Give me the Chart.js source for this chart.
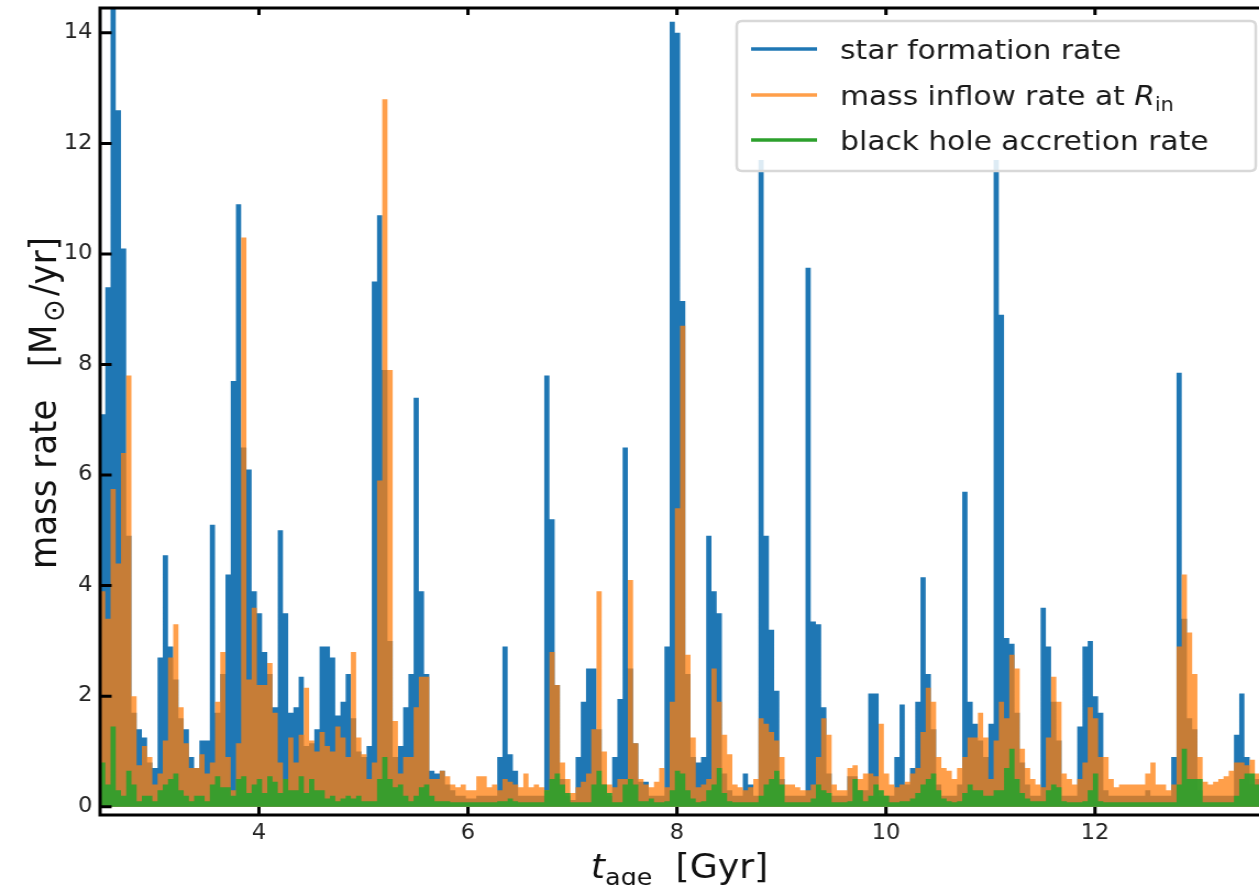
<!DOCTYPE html>
<html><head><meta charset="utf-8">
<script src="https://cdn.jsdelivr.net/npm/chart.js@4.4.1/dist/chart.umd.min.js"></script>
<style>
html,body{margin:0;padding:0;background:#fff;overflow:hidden;}
#wrap{position:absolute;left:0;top:0;width:1145px;height:885px;transform:scaleX(1.0996);transform-origin:0 0;}
canvas{display:block;}
</style></head><body>
<div id="wrap"><canvas id="c" width="1145" height="885"></canvas></div>
<script>
// time bins: start of first bin and bin width [Gyr]
const T_START = 2.48;
const BIN = 0.05;

// star formation rate [Msun/yr], one value per bin
const sfr = [
7.1,9.4,15.0,12.6,10.1,4.9,1.7,1.4,1.25,0.8, 0.7,2.7,4.55,2.9,2.3,1.6,1.4,0.9,0.7,1.2,
1.2,5.1,1.7,2.4,4.2,7.7,10.9,6.5,6.1,3.9, 3.5,2.8,2.4,1.8,5.0,3.5,1.7,1.8,2.35,1.1,
1.15,1.4,2.9,2.9,2.7,1.65,1.9,2.4,1.6,1.0, 0.9,1.1,9.5,10.7,7.9,3.0,0.9,1.1,1.8,2.4,
7.4,3.9,2.4,0.65,0.6,0.65,0.4,0.3,0.2,0.2, 0.15,0.15,0.2,0.2,0.2,0.2,0.9,2.9,0.95,0.65,
0.2,0.2,0.2,0.2,0.2,7.8,5.2,2.2,0.5,0.2, 0.12,0.9,1.9,2.5,2.5,1.4,0.4,0.2,0.9,1.95,
6.5,2.5,1.15,0.45,0.45,0.2,0.2,0.2,2.9,14.2, 14.0,9.15,2.4,0.9,0.8,0.9,4.9,3.9,3.5,0.6,
0.3,0.2,0.2,0.6,0.4,0.2,11.7,4.9,3.2,2.1, 0.5,0.2,0.2,0.2,0.2,9.75,3.35,3.3,1.8,0.6,
0.2,0.2,0.2,0.55,0.55,0.3,0.3,2.05,2.05,0.2, 0.2,0.2,0.9,1.85,0.4,0.7,1.9,4.15,2.4,1.4,
0.4,0.2,0.2,0.2,0.4,5.7,1.9,1.5,1.2,0.9, 1.5,11.7,8.9,3.05,2.95,1.7,0.8,0.4,0.2,0.2,
3.6,2.9,1.9,1.2,0.2,0.2,0.2,1.45,2.9,3.0, 2.0,1.7,0.3,0.2,0.2,0.2,0.2,0.2,0.2,0.2,
0.3,0.2,0.2,0.2,0.2,0.9,7.85,3.4,1.6,1.4, 0.3,0.2,0.2,0.2,0.2,0.2,0.2,1.3,2.05,0.9,
0.4,0.5
];

// mass inflow rate at R_in [Msun/yr]
const inflow = [
3.9,3.4,5.75,4.4,6.4,7.8,2.0,0.75,1.1,0.9, 0.4,0.6,1.2,2.7,3.3,1.8,1.15,0.7,0.7,0.95,
0.6,0.8,1.9,2.8,0.9,0.3,1.15,10.3,2.3,3.6, 2.2,2.2,2.6,1.7,0.8,0.5,1.25,0.8,1.3,2.15,
1.2,1.0,1.35,1.1,1.0,1.45,1.25,0.9,2.8,1.25, 0.95,0.5,0.8,5.9,12.8,7.9,1.55,0.6,0.9,0.9,
1.8,2.35,2.35,0.5,0.5,0.65,0.55,0.4,0.35,0.4, 0.3,0.3,0.55,0.55,0.35,0.4,0.3,0.5,0.45,0.4,
0.35,0.6,0.35,0.4,0.35,0.3,2.8,2.2,0.8,0.5, 0.25,0.35,0.45,0.6,1.4,3.9,1.0,0.4,0.35,0.5,
0.5,4.1,1.15,0.5,0.4,0.35,0.45,0.7,0.35,1.9, 5.4,8.7,2.75,1.25,0.35,0.4,0.5,2.5,1.9,1.3,
0.95,0.4,0.35,0.3,0.35,0.5,1.6,1.5,1.35,1.2, 0.9,0.4,0.4,0.35,0.3,0.3,0.4,0.9,1.6,1.3,
0.4,0.3,0.3,0.7,0.75,0.5,0.6,0.6,0.55,1.5, 0.6,0.4,0.35,0.4,0.45,0.6,0.7,1.35,2.15,1.9,
0.9,0.7,0.65,0.5,0.7,0.9,1.25,1.25,1.7,1.25, 0.5,1.2,1.9,1.6,2.75,2.5,1.05,0.7,0.5,0.4,
0.35,1.25,2.35,1.9,0.6,0.5,0.4,0.5,0.8,1.8, 1.6,0.9,0.9,0.5,0.35,0.4,0.4,0.4,0.4,0.4,
0.6,0.8,0.4,0.4,0.3,0.4,2.9,4.2,3.15,2.4, 0.9,0.45,0.4,0.45,0.5,0.55,0.65,0.8,0.8,0.75,
0.85,0.6
];

// black hole accretion rate [Msun/yr]
const bhar = [
0.8,0.4,1.45,0.3,0.2,0.65,0.4,0.1,0.2,0.2, 0.1,0.3,0.4,0.5,0.6,0.3,0.2,0.1,0.2,0.2,
0.1,0.4,0.55,0.35,0.35,0.2,0.5,0.55,0.25,0.4, 0.5,0.25,0.55,0.45,0.25,0.5,0.3,0.3,0.55,0.25,
0.5,0.3,0.3,0.15,0.2,0.1,0.15,0.2,0.15,0.2, 0.1,0.1,0.1,0.5,0.9,0.5,0.35,0.4,0.2,0.1,
0.2,0.35,0.4,0.2,0.1,0.1,0.1,0.08,0.08,0.08, 0.08,0.08,0.08,0.08,0.08,0.08,0.1,0.1,0.15,0.1,
0.08,0.08,0.08,0.08,0.08,0.3,0.5,0.6,0.4,0.25, 0.08,0.08,0.08,0.08,0.4,0.65,0.4,0.25,0.08,0.08,
0.4,0.5,0.4,0.1,0.1,0.15,0.08,0.08,0.1,0.3, 0.65,0.6,0.3,0.15,0.08,0.1,0.3,0.4,0.7,0.25,
0.1,0.08,0.08,0.08,0.08,0.08,0.2,0.4,0.5,0.65, 0.4,0.08,0.08,0.08,0.08,0.08,0.15,0.4,0.3,0.25,
0.08,0.08,0.08,0.1,0.5,0.3,0.1,0.2,0.4,0.3, 0.2,0.08,0.08,0.1,0.1,0.15,0.25,0.4,0.5,0.6,
0.3,0.15,0.1,0.08,0.1,0.25,0.4,0.3,0.3,0.2, 0.2,0.3,0.3,0.7,1.05,0.5,0.25,0.15,0.1,0.1,
0.1,0.3,0.4,0.35,0.1,0.08,0.08,0.08,0.1,0.3, 0.6,0.1,0.08,0.08,0.08,0.08,0.08,0.08,0.08,0.08,
0.08,0.08,0.08,0.08,0.08,0.08,0.4,1.05,0.5,0.5, 0.5,0.08,0.08,0.08,0.08,0.08,0.08,0.2,0.5,0.6,
0.6,0.4
];

const X_TICKS = [4, 6, 8, 10, 12];
const Y_TICKS = [0, 2, 4, 6, 8, 10, 12, 14];
const X_RANGE = [2.48, 13.57];
const Y_RANGE = [-0.15, 14.45];

const COLORS = ['#1f77b4', 'rgba(255,127,14,0.75)', 'rgba(44,160,44,0.92)'];
const LEGEND_COLORS = ['#1f77b4', '#ff9f4a', '#2ca02c'];
const FONT = '"DejaVu Sans", "Liberation Sans", sans-serif';

function toSteps(vals) {
  const pts = vals.map((v, i) => ({x: T_START + i * BIN, y: v}));
  pts.push({x: T_START + vals.length * BIN, y: vals[vals.length - 1]});
  return pts;
}

function fontStr(size, italic) {
  return (italic ? 'italic ' : '') + size + 'px ' + FONT;
}
function drawRich(ctx, parts, x, y, size, align) {
  let w = 0;
  const widths = parts.map(p => {
    ctx.font = fontStr(p.sub ? size * (p.scale || 0.7) : size, p.it);
    const m = ctx.measureText(p.t).width + (p.pad || 0);
    w += m;
    return m;
  });
  let cx = align === 'center' ? x - w / 2 : x;
  parts.forEach((p, i) => {
    ctx.font = fontStr(p.sub ? size * (p.scale || 0.7) : size, p.it);
    ctx.fillText(p.t, cx + (p.pad || 0) / 2, y + (p.sub ? size * 0.22 : 0));
    cx += widths[i];
  });
}

const LEGEND_ROWS = [
  [{t: 'star formation rate'}],
  [{t: 'mass inflow rate at '}, {t: 'R', it: true}, {t: 'in', sub: true}],
  [{t: 'black hole accretion rate'}]
];

const decor = {
  id: 'decor',
  afterDraw(chart) {
    const ctx = chart.ctx;
    const a = chart.chartArea;
    const xs = chart.scales.x, ys = chart.scales.y;
    ctx.save();
    ctx.strokeStyle = '#000';
    ctx.lineWidth = 3;
    ctx.lineCap = 'butt';
    // spines
    ctx.beginPath();
    ctx.moveTo(a.left, a.bottom + 1.5); ctx.lineTo(a.left, a.top - 1.5);
    ctx.moveTo(a.left - 1.5, a.top); ctx.lineTo(a.right, a.top);
    ctx.moveTo(a.left - 1.5, a.bottom); ctx.lineTo(a.right, a.bottom);
    ctx.stroke();
    // inward ticks
    ctx.beginPath();
    X_TICKS.forEach(v => {
      const px = xs.getPixelForValue(v);
      ctx.moveTo(px, a.bottom); ctx.lineTo(px, a.bottom - 8);
      ctx.moveTo(px, a.top); ctx.lineTo(px, a.top + 7);
    });
    Y_TICKS.forEach(v => {
      const py = ys.getPixelForValue(v);
      ctx.moveTo(a.left, py); ctx.lineTo(a.left + 10.5, py);
    });
    ctx.stroke();

    // legend
    const bx = 670, by = 21, bw = 472, bh = 150, r = 5;
    ctx.beginPath();
    ctx.moveTo(bx + r, by);
    ctx.lineTo(bx + bw - r, by); ctx.quadraticCurveTo(bx + bw, by, bx + bw, by + r);
    ctx.lineTo(bx + bw, by + bh - r); ctx.quadraticCurveTo(bx + bw, by + bh, bx + bw - r, by + bh);
    ctx.lineTo(bx + r, by + bh); ctx.quadraticCurveTo(bx, by + bh, bx, by + bh - r);
    ctx.lineTo(bx, by + r); ctx.quadraticCurveTo(bx, by, bx + r, by);
    ctx.closePath();
    ctx.fillStyle = 'rgba(255,255,255,0.85)';
    ctx.fill();
    ctx.strokeStyle = '#d8d8d8';
    ctx.lineWidth = 2.5;
    ctx.stroke();
    const rowY = [49, 95, 140];
    ctx.lineWidth = 3.3;
    ctx.textBaseline = 'alphabetic';
    ctx.fillStyle = '#1a1a1a';
    LEGEND_ROWS.forEach((row, i) => {
      ctx.strokeStyle = LEGEND_COLORS[i];
      ctx.beginPath();
      ctx.moveTo(683, rowY[i]); ctx.lineTo(743, rowY[i]);
      ctx.stroke();
      drawRich(ctx, row, 764, rowY[i] + 10, 27, 'left');
    });

    // axis titles
    ctx.fillStyle = '#111';
    drawRich(ctx, [{t: 't', it: true}, {t: 'age', sub: true}, {t: '  [Gyr]'}],
      (a.left + a.right) / 2, 878, 33, 'center');
    ctx.save();
    ctx.translate(51, 403);
    ctx.rotate(-Math.PI / 2);
    drawRich(ctx, [{t: 'mass rate   [M'}, {t: '\u2299', sub: true, scale: 0.8, pad: 6}, {t: '/yr]'}], 0, 0, 34, 'center');
    ctx.restore();
    ctx.restore();
  }
};

new Chart(document.getElementById('c'), {
  type: 'line',
  data: {
    datasets: [
      {label: 'star formation rate', data: toSteps(sfr), order: 3},
      {label: 'mass inflow rate at R_in', data: toSteps(inflow), order: 2},
      {label: 'black hole accretion rate', data: toSteps(bhar), order: 1}
    ].map((d, i) => Object.assign(d, {
      stepped: true, fill: 'origin', backgroundColor: COLORS[i],
      borderColor: 'rgba(0,0,0,0)', borderWidth: 0, pointRadius: 0, pointHoverRadius: 0
    }))
  },
  options: {
    responsive: false,
    animation: false,
    devicePixelRatio: 1,
    events: [],
    layout: {padding: {top: 8, left: 0, right: 0, bottom: 0}, autoPadding: false},
    plugins: {legend: {display: false}, tooltip: {enabled: false}},
    scales: {
      x: {
        type: 'linear', min: X_RANGE[0], max: X_RANGE[1],
        afterBuildTicks: s => { s.ticks = X_TICKS.map(v => ({value: v})); },
        afterFit: s => { s.height = 70; s.paddingLeft = 0; s.paddingRight = 0; s.paddingTop = 0; s.paddingBottom = 0; },
        grid: {display: false, drawTicks: false},
        border: {display: false},
        ticks: {font: {family: FONT, size: 20.5}, color: '#222', padding: 6, maxRotation: 0, autoSkip: false}
      },
      y: {
        type: 'linear', min: Y_RANGE[0], max: Y_RANGE[1],
        afterBuildTicks: s => { s.ticks = Y_TICKS.map(v => ({value: v})); },
        afterFit: s => { s.width = 91; s.paddingLeft = 0; s.paddingRight = 0; s.paddingTop = 0; s.paddingBottom = 0; },
        grid: {display: false, drawTicks: false},
        border: {display: false},
        ticks: {font: {family: FONT, size: 20.5}, color: '#222', padding: 7, autoSkip: false}
      }
    }
  },
  plugins: [decor]
});
</script>
</body></html>
